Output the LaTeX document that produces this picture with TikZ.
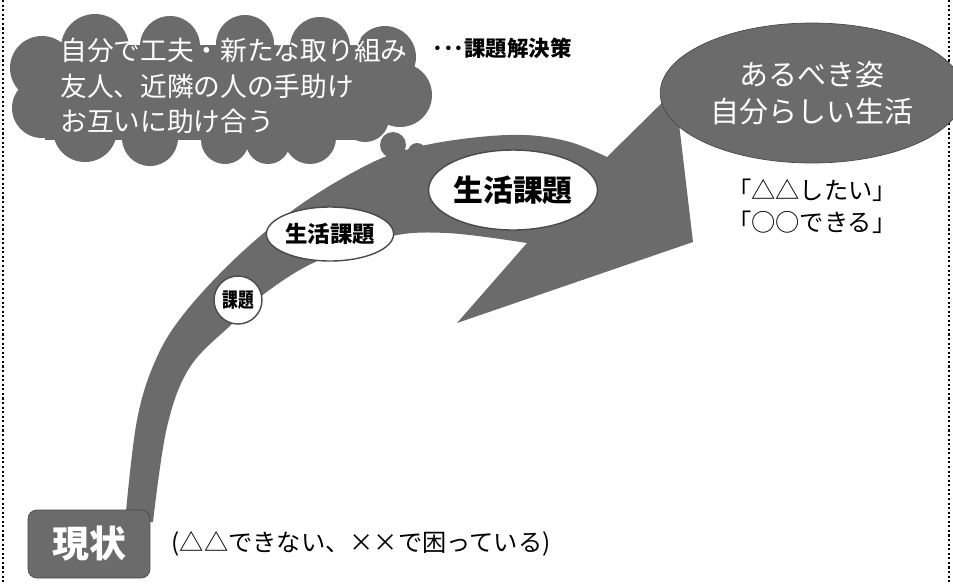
\documentclass[tikz,border=0pt]{standalone}
\usepackage{fontspec}
\usepackage{graphicx}
\setmainfont{Noto Sans CJK JP}
\usetikzlibrary{positioning, shapes.geometric}

\definecolor{panelgray}{HTML}{6B6B6B}
\definecolor{edgegray}{HTML}{4A4A4A}

\begin{document}
\begin{tikzpicture}[x=0.02cm, y=-0.02cm,
      cloudtext/.style={text=white, align=left, inner sep=0pt, font=\fontsize{15.2}{20.2}\selectfont},
      goal/.style={ellipse, fill=panelgray, draw=edgegray, minimum width=5.06cm, minimum height=2.8cm, text=white, align=center, font=\fontsize{16.5}{21}\selectfont},
      issue/.style={ellipse, fill=white, draw=edgegray, thick, inner sep=0pt, font=\bfseries},
      startbox/.style={rectangle, rounded corners=5pt, fill=panelgray, draw=edgegray, minimum width=2.44cm, minimum height=1.36cm, text=white, font=\fontsize{21}{24}\selectfont\bfseries},
      note/.style={align=left, inner sep=0pt, font=\fontsize{13.8}{18.4}\selectfont}
    ]
      \useasboundingbox (0,0) rectangle (953,583);
      % frame
      \draw[line width=1.4pt, dash pattern=on 1.2pt off 1.4pt] (3,0) -- (3,583);
      \draw[line width=1.4pt, dash pattern=on 1.2pt off 1.4pt] (949,0) -- (949,583);

      % Cloud
      \fill[panelgray] (45,45) rectangle (395,125);
      \fill[panelgray] (45,45) rectangle (360,140);
      \foreach \cx/\cy/\r in {95/48/34, 170/46/30, 245/44/29, 320/47/30, 385/57/31,
                              400/95/32, 365/118/24, 310/138/26, 268/142/22, 225/140/24,
                              150/138/28, 85/130/32, 42/68/32, 42/108/30}
        \fill[panelgray] (\cx,\cy) circle[radius=\r];
      \node[cloudtext, anchor=west] (ideas) at (60,86) {
        自分で工夫・新たな取り組み\\
        友人、近隣の人の手助け\\
        お互いに助け合う
      };
      \node[font=\fontsize{12.2}{14}\selectfont\bfseries, inner sep=0pt, anchor=west] (solution) at (432,48) {･･･課題解決策};
      \node[circle, fill=panelgray, minimum size=0.52cm, inner sep=0pt] (bubbleA) at (393,145) {};
      \node[circle, fill=panelgray, minimum size=0.36cm, inner sep=0pt] (bubbleB) at (417,152) {};

      % Arrow
      \fill[panelgray] plot[smooth, tension=0.6] coordinates {(125,522) (137,420) (157,357) (187,310) (240,254) (300,205) (367,165) (413,148) (470,138) (525,135) (570,142) (607,157)}
        -- (675,90) -- (693,242) -- (457,323)
        -- plot[smooth, tension=0.6] coordinates {(527,243) (447,233) (387,237) (313,263) (260,297) (233,323) (190,367) (167,427) (153,522)} -- cycle;

      % Issues
      \node[issue, circle, minimum size=0.96cm, font=\fontsize{11.5}{12}\selectfont\bfseries] (small) at (238,300) {\scalebox{0.78}[1]{課題}};
      \node[issue, minimum width=2.12cm, minimum height=1.08cm, font=\fontsize{12.8}{14}\selectfont\bfseries] (middle) at (330,234) {生活課題};
      \node[issue, minimum width=2.92cm, minimum height=1.6cm, font=\fontsize{17}{20}\selectfont\bfseries] (large) at (513,190) {生活課題};

      % Goal
      \node[goal] (goal) at (812,93) {あるべき姿\\自分らしい生活};
      \node[note, below=0.3cm of goal] (wish) {「△△したい」\\「○○できる」};

      % Start
      \node[startbox] (now) at (89,544) {現状};
      \node[note, right=0.42cm of now] (status) {(△△できない、××で困っている)};
    \end{tikzpicture}
\end{document}
